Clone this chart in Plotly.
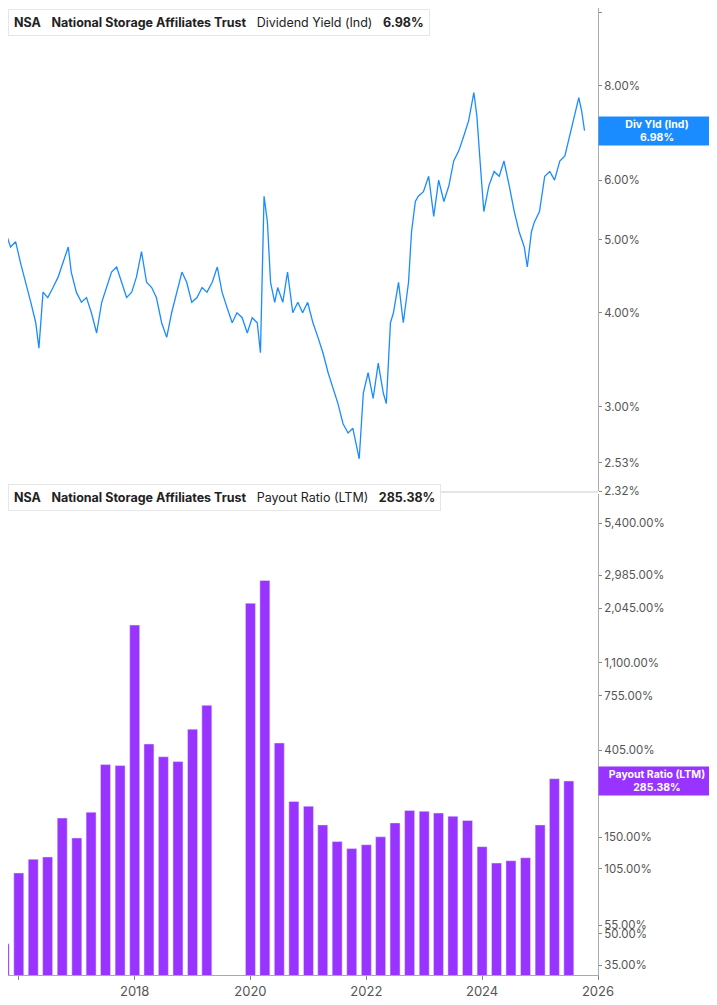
import plotly.graph_objects as go
from plotly.subplots import make_subplots

# dividend yield (%)
yld_dates = [
    "2015-09-10", "2015-10-10", "2015-11-10", "2015-12-12", "2016-01-14", "2016-02-14", "2016-03-17",
    "2016-04-17", "2016-05-07", "2016-06-02", "2016-07-02", "2016-08-04", "2016-09-05", "2016-10-07",
    "2016-11-08", "2016-11-27", "2016-12-29", "2017-01-30", "2017-03-03", "2017-04-03", "2017-05-06",
    "2017-06-07", "2017-07-07", "2017-08-08", "2017-09-09", "2017-10-09", "2017-11-11", "2017-12-13",
    "2018-01-12", "2018-02-13", "2018-03-17", "2018-04-18", "2018-05-18", "2018-06-20", "2018-07-22",
    "2018-08-22", "2018-09-23", "2018-10-26", "2018-11-25", "2018-12-27", "2019-01-29", "2019-03-02",
    "2019-04-02", "2019-05-05", "2019-06-06", "2019-07-06", "2019-08-07", "2019-09-08", "2019-10-08",
    "2019-11-10", "2019-12-12", "2020-01-12", "2020-02-13", "2020-03-04", "2020-03-27", "2020-04-17",
    "2020-05-07", "2020-06-02", "2020-06-21", "2020-07-23", "2020-08-22", "2020-09-24", "2020-10-26",
    "2020-11-25", "2020-12-27", "2021-01-29", "2021-03-02", "2021-04-02", "2021-05-05", "2021-06-06",
    "2021-07-06", "2021-08-07", "2021-09-08", "2021-10-08", "2021-10-29", "2021-11-17", "2021-12-13",
    "2022-01-12", "2022-02-13", "2022-03-17", "2022-04-18", "2022-05-07", "2022-06-02", "2022-06-21",
    "2022-07-23", "2022-08-22", "2022-09-24", "2022-10-13", "2022-11-06", "2022-11-25", "2022-12-27",
    "2023-01-29", "2023-03-02", "2023-04-02", "2023-05-05", "2023-06-06", "2023-07-06", "2023-08-07",
    "2023-09-08", "2023-10-08", "2023-11-10", "2023-11-29", "2023-12-24", "2024-01-12", "2024-02-13",
    "2024-03-17", "2024-04-18", "2024-05-18", "2024-06-20", "2024-07-22", "2024-08-22", "2024-09-23",
    "2024-10-12", "2024-11-07", "2024-11-26", "2024-12-28", "2025-01-30", "2025-03-03", "2025-04-02",
    "2025-05-05", "2025-06-06", "2025-07-06", "2025-08-07", "2025-09-02", "2025-09-20", "2025-10-08",
]
yld_vals = [
    5.79, 5.12, 4.89, 4.97, 4.64, 4.39, 4.13,
    3.88, 3.59, 4.26, 4.19, 4.32, 4.46, 4.67,
    4.89, 4.53, 4.26, 4.13, 4.19, 4.00, 3.76,
    4.13, 4.32, 4.53, 4.60, 4.39, 4.19, 4.26,
    4.46, 4.82, 4.39, 4.32, 4.19, 3.88, 3.71,
    4.00, 4.26, 4.53, 4.39, 4.13, 4.19, 4.32,
    4.26, 4.39, 4.60, 4.26, 4.06, 3.88, 4.00,
    3.94, 3.76, 3.94, 3.88, 3.54, 5.71, 5.28,
    4.39, 4.13, 4.32, 4.13, 4.53, 4.00, 4.13,
    4.00, 4.13, 3.88, 3.71, 3.54, 3.33, 3.18,
    3.03, 2.85, 2.77, 2.81, 2.68, 2.56, 3.13,
    3.33, 3.08, 3.43, 3.13, 3.03, 3.88, 4.00,
    4.39, 3.88, 4.39, 5.12, 5.62, 5.71, 5.79,
    6.07, 5.37, 6.00, 5.62, 5.90, 6.36, 6.56,
    6.87, 7.19, 7.84, 7.30, 6.16, 5.45, 5.90,
    6.16, 6.07, 6.36, 5.90, 5.45, 5.12, 4.89,
    4.60, 5.12, 5.28, 5.45, 6.07, 6.16, 6.00,
    6.36, 6.46, 6.87, 7.30, 7.72, 7.41, 6.98,
]

# payout ratio LTM (%), quarterly
pay_dates = [
    "2015-10-01", "2016-01-01", "2016-04-01", "2016-07-01", "2016-10-01", "2017-01-01", "2017-04-01",
    "2017-07-01", "2017-10-01", "2018-01-01", "2018-04-01", "2018-07-01", "2018-10-01", "2019-01-01",
    "2019-04-01", "2020-01-01", "2020-04-01", "2020-07-01", "2020-10-01", "2021-01-01", "2021-04-01",
    "2021-07-01", "2021-10-01", "2022-01-01", "2022-04-01", "2022-07-01", "2022-10-01", "2023-01-01",
    "2023-04-01", "2023-07-01", "2023-10-01", "2024-01-01", "2024-04-01", "2024-07-01", "2024-10-01",
    "2025-01-01", "2025-04-01", "2025-07-01",
]
pay_vals = [
    44.6, 100, 117, 120, 187, 149, 200,
    344, 340, 1687, 435, 376, 356, 515,
    676, 2163, 2805, 440, 226, 214, 173,
    143, 132, 138, 151, 177, 204, 202,
    198, 191, 182, 135, 112, 115, 119,
    173, 293, 285.38,
]

yld_ticks = [2.32, 2.53, 3, 4, 5, 6, 7, 8, 10]
pay_ticks = [35, 50, 55, 105, 150, 280, 405, 755, 1100, 2045, 2985, 5400]

BLUE = "#1a8cff"
PURPLE = "#9933ff"
GREY = "#555555"

fig = make_subplots(rows=2, cols=1, shared_xaxes=True, vertical_spacing=0.003)
fig.add_trace(go.Scatter(x=yld_dates, y=yld_vals, mode="lines",
                         line=dict(color=BLUE, width=1.3)), row=1, col=1)
fig.add_trace(go.Bar(x=pay_dates, y=pay_vals, marker_color=PURPLE,
                     width=63 * 86400000), row=2, col=1)

x_range = ["2015-10-25", "2026-01-01"]
font = dict(family="Inter, Roboto, sans-serif", size=12, color=GREY)
axis_common = dict(showgrid=False, zeroline=False, showline=True, linecolor="#aaaaaa",
                   ticks="outside", ticklen=3, tickcolor="#888888", side="right",
                   tickfont=dict(size=11.5, color=GREY))
fig.update_layout(
    width=709, height=997, showlegend=False, plot_bgcolor="white", paper_bgcolor="white",
    margin=dict(l=0, r=119, t=0, b=30), font=font,
    xaxis=dict(showgrid=False, showline=False, showticklabels=False, range=x_range, ticks=""),
    xaxis2=dict(showgrid=False, showline=True, linecolor="#aaaaaa", ticks="outside",
                ticklen=4, tickcolor="#888888", range=x_range,
                tickvals=["%d-01-01" % y for y in range(2016, 2027, 2)],
                ticktext=[str(y) for y in range(2016, 2027, 2)],
                tickfont=dict(size=13, color=GREY, family="Inter, sans-serif")),
    yaxis=dict(type="log", range=[0.3655, 1.0065], tickvals=yld_ticks,
               ticktext=["%.2f%%" % v for v in yld_ticks], domain=[0.5005, 1], **axis_common),
    yaxis2=dict(type="log", range=[1.495, 3.874], tickvals=pay_ticks,
                ticktext=["{:,.2f}%".format(v) for v in pay_ticks], domain=[0, 0.497], **axis_common),
)

# separator between panels
fig.add_shape(type="line", xref="paper", yref="paper", x0=0, x1=1, y0=0.4995, y1=0.4995,
              line=dict(color="#cccccc", width=1))

# legend boxes
def header(y, color, text):
    fig.add_annotation(xref="paper", yref="paper", x=0.0, y=y, xanchor="left", yanchor="top",
                       text=text, showarrow=False, align="left", bgcolor="white",
                       bordercolor="#e6e6e6", borderwidth=1, borderpad=5,
                       font=dict(size=12.5, color="#222222", family="Inter, sans-serif"))
    fig.add_shape(type="rect", xref="paper", yref="paper", x0=0.0, x1=0.006,
                  y0=y - 0.027, y1=y - 0.002, fillcolor=color, line_width=0)

header(0.999, BLUE, "<b>NSA</b>   <b>National Storage Affiliates Trust</b>   Dividend Yield (Ind)   <b>6.98%</b>")
header(0.5075, PURPLE, "<b>NSA</b>   <b>National Storage Affiliates Trust</b>   Payout Ratio (LTM)   <b>285.38%</b>")

# value flags
fig.add_annotation(xref="paper", yref="y", x=1.0, y=0.8439, xanchor="left", yanchor="middle",
                   text="<b>Div Yld (Ind)<br>6.98%</b>", showarrow=False, bgcolor=BLUE,
                   width=116, height=28, borderpad=0,
                   font=dict(size=10.5, color="white", family="Inter, sans-serif"))
fig.add_annotation(xref="paper", yref="y2", x=1.0, y=2.4554, xanchor="left", yanchor="middle",
                   text="<b>Payout Ratio (LTM)<br>285.38%</b>", showarrow=False, bgcolor=PURPLE,
                   width=116, height=28, borderpad=0,
                   font=dict(size=10.5, color="white", family="Inter, sans-serif"))

fig.write_html("out.html")
